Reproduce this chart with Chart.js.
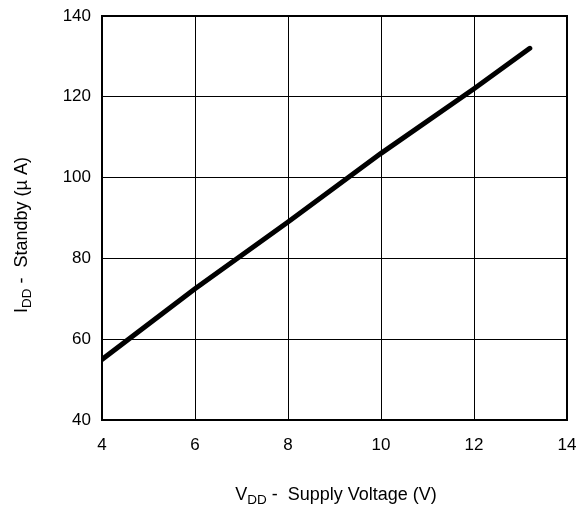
<!DOCTYPE html>
<html>
<head>
<meta charset="utf-8">
<script src="https://cdn.jsdelivr.net/npm/chart.js@4/dist/chart.umd.min.js"></script>
<style>
  html, body { margin: 0; padding: 0; background: #fff; }
  #wrap { width: 578px; height: 505px; }
</style>
</head>
<body>
<div id="wrap"><canvas id="grafica" width="578" height="505"></canvas></div>
<script>
// supply voltage (V) and standby current (uA)
const voltaje = [4, 6, 8, 10, 12, 13.2];
const corriente = [55, 72.5, 89, 106, 122, 132];
const ticksX = [4, 6, 8, 10, 12, 14];
const ticksY = [40, 60, 80, 100, 120, 140];

const fuente = '"Liberation Sans", Arial, Helvetica, sans-serif';

// texto con subindice: [texto, esSubindice]
function dibujarEtiqueta(ctx, partes, cx, cy, rot) {
    ctx.save();
    ctx.translate(cx, cy);
    ctx.rotate(rot);
    ctx.fillStyle = '#000';
    ctx.textBaseline = 'alphabetic';
    ctx.textAlign = 'left';
    let total = 0;
    const anchos = partes.map(p => {
        ctx.font = (p[1] ? '13.5px ' : '18px ') + fuente;
        const w = ctx.measureText(p[0]).width;
        total += w;
        return w;
    });
    let x = -total / 2;
    partes.forEach((p, i) => {
        ctx.font = (p[1] ? '13.5px ' : '18px ') + fuente;
        ctx.fillText(p[0], x, p[1] ? 4 : 0);
        x += anchos[i];
    });
    ctx.restore();
}

const marcoYTitulos = {
    id: 'marcoYTitulos',
    afterDraw(chart) {
        const { ctx, chartArea: a } = chart;
        ctx.save();
        ctx.strokeStyle = '#000';
        ctx.lineWidth = 2;
        ctx.strokeRect(a.left, a.top, a.right - a.left, a.bottom - a.top);
        ctx.restore();
        dibujarEtiqueta(ctx, [['V', false], ['DD', true], [' -  Supply Voltage (V)', false]],
            336, 500, 0);
        dibujarEtiqueta(ctx, [['I', false], ['DD', true], [' -  Standby (\u00b5 A)', false]],
            27, 235, -Math.PI / 2);
    }
};

new Chart(document.getElementById('grafica'), {
    type: 'scatter',
    data: {
        datasets: [{
            data: voltaje.map((v, i) => ({ x: v, y: corriente[i] })),
            showLine: true,
            borderColor: '#000',
            borderWidth: 5,
            borderCapStyle: 'round',
            pointRadius: 0,
            tension: 0
        }]
    },
    options: {
        responsive: false,
        animation: false,
        layout: { padding: { left: 0, top: 16, right: 11, bottom: 0 } },
        plugins: { legend: { display: false }, tooltip: { enabled: false } },
        scales: {
            x: {
                type: 'linear',
                min: 4,
                max: 14,
                afterBuildTicks: s => { s.ticks = ticksX.map(v => ({ value: v })); },
                afterFit: s => { s.height = 85; s.paddingLeft = 0; s.paddingRight = 0; },
                grid: { color: '#000', lineWidth: 1, drawTicks: false },
                border: { display: false },
                ticks: { color: '#000', font: { family: fuente, size: 17 }, padding: 15, maxRotation: 0 }
            },
            y: {
                type: 'linear',
                min: 40,
                max: 140,
                afterBuildTicks: s => { s.ticks = ticksY.map(v => ({ value: v })); },
                afterFit: s => { s.width = 102; s.paddingTop = 0; s.paddingBottom = 0; },
                grid: { color: '#000', lineWidth: 1, drawTicks: false },
                border: { display: false },
                ticks: { color: '#000', font: { family: fuente, size: 17 }, padding: 11 }
            }
        }
    },
    plugins: [marcoYTitulos]
});
</script>
</body>
</html>
